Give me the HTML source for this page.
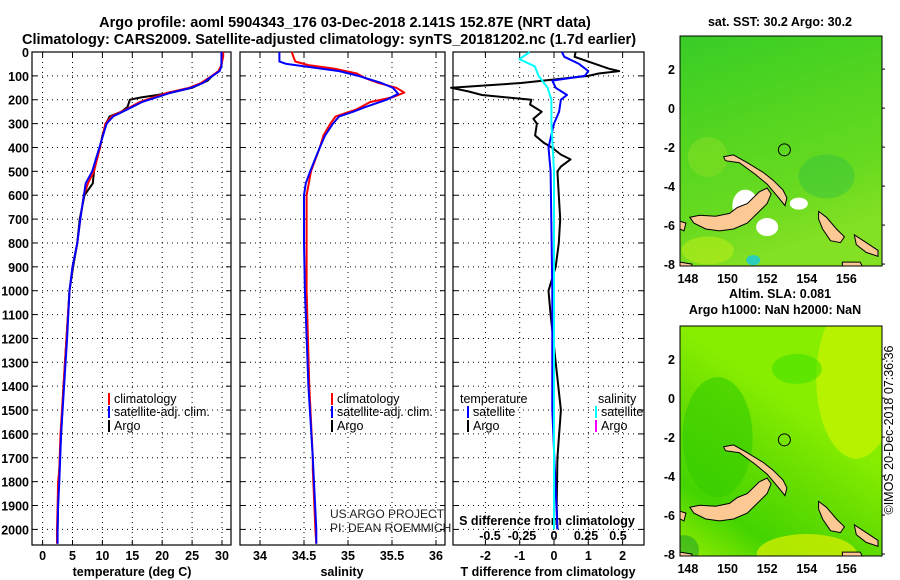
<!DOCTYPE html>
<html><head><meta charset="utf-8">
<style>
html,body{margin:0;padding:0;background:#fff;}
svg{display:block;font-family:"Liberation Sans",Arial,sans-serif;}
.b{font-weight:bold;}
</style></head>
<body>
<svg id="c" width="900" height="580" viewBox="0 0 900 580">
<text x="345" y="27" text-anchor="middle" class="b" font-size="14.5">Argo profile: aoml 5904343_176 03-Dec-2018 2.141S 152.87E (NRT data)</text>
<text x="329" y="44" text-anchor="middle" class="b" font-size="14.5">Climatology: CARS2009. Satellite-adjusted climatology: synTS_20181202.nc (1.7d earlier)</text>
</svg>
<script>
// ---- data ----
const depthTicks=[0,100,200,300,400,500,600,700,800,900,1000,1100,1200,1300,1400,1500,1600,1700,1800,1900,2000];
const tempTicks=[0,5,10,15,20,25,30];
const salTicks=[34,34.5,35,35.5,36];
const salTickLabels=["34","34.5","35","35.5","36"];
const tdiffTicks=[-2,-1,0,1,2];
const sdiffTicks=[-0.5,-0.25,0,0.25,0.5];
const sdiffTickLabels=["-0.5","-0.25","0","0.25","0.5"];

const tClimDepth=[0,20,60,80,100,130,150,170,190,210,240,270,300,400,500,550,600,700,800,900,1000,1200,1400,1600,1750,1800,1900,2000,2060];
const tClimVal=[30.2,30.2,29.8,29.4,28.3,26.5,24.5,21,18.5,16.2,14,11.5,10.5,9.6,8.6,7.6,6.9,6.3,5.8,5.0,4.5,4.0,3.5,3.0,2.8,2.6,2.5,2.4,2.4];
const tSatDepth=[0,20,60,80,100,130,150,170,190,210,240,270,300,400,500,550,600,700,800,900,1000,1200,1400,1600,1800,1900,2000,2060];
const tSatVal=[29.9,29.9,29.9,29.6,28.4,26.8,24.8,21.5,19,16.6,14.2,11.8,10.7,9.5,8.3,7.2,6.9,6.3,5.8,5.0,4.5,4.1,3.6,3.1,2.8,2.6,2.5,2.5];
const tArgoDepth=[0,20,60,80,100,120,150,170,180,190,200,230,250,270,300,350,400,450,500,550,600,650,700,800,900,1000,1200,1400,1600,1800,1900,2000];
const tArgoVal=[30.1,30.1,29.9,29.5,28.4,27.6,25.0,21.5,19.2,16.5,14.6,14.2,13.2,11.2,10.6,10.0,9.6,8.9,8.6,8.4,7.0,6.6,6.2,5.8,5.1,4.5,4.0,3.5,3.1,2.7,2.6,2.5];

const sClimDepth=[0,40,55,70,90,110,130,150,170,190,210,240,270,300,350,400,500,600,800,1000,1400,1700,1750,2000,2060];
const sClimVal=[34.36,34.4,34.55,34.85,35.1,35.2,35.35,35.55,35.64,35.5,35.25,35.1,34.86,34.8,34.72,34.68,34.58,34.53,34.53,34.53,34.56,34.6,34.6,34.63,34.64];
const sSatDepth=[0,40,50,65,80,100,130,150,175,200,230,250,270,300,350,400,500,550,600,800,1000,1400,1700,2000,2060];
const sSatVal=[34.22,34.22,34.3,34.6,34.9,35.12,35.38,35.51,35.57,35.44,35.2,35.06,34.9,34.83,34.74,34.68,34.57,34.52,34.5,34.5,34.51,34.55,34.6,34.64,34.64];

const dArgoTDepth=[0,20,50,70,80,90,100,115,130,150,165,180,200,220,250,280,300,350,380,400,430,450,480,500,600,700,800,900,1000,1100,1300,1500,1700,1900,2000];
const dArgoTVal=[0.63,0.6,1.2,1.6,1.9,1.3,1.0,0,-0.96,-3.0,-2.5,-2.1,-0.66,-0.7,-0.36,-0.6,-0.5,-0.55,-0.3,-0.06,0.2,0.48,0.2,0.1,0.14,0.18,0.14,0.05,-0.16,-0.1,0.05,0.2,0.1,0.08,0.1];
const dSatTDepth=[0,20,50,80,100,120,150,180,200,250,300,400,500,700,1000,1500,2000];
const dSatTVal=[0.23,0.3,0.73,1.0,0.9,-0.05,0.05,0.38,0.2,0.15,0.0,-0.16,-0.1,-0.08,-0.05,-0.05,0.1];
const dSatSDepth=[0,30,60,100,150,200,300,500,1000,1500,2000];
const dSatSVal=[-0.19,-0.27,-0.15,-0.12,-0.05,-0.02,-0.02,0,0,0,0];

// ---- geometry / axis functions ----
const PT=52, PB=545;
const yD=d=>PT+d*0.2387;
const xT=t=>42.6+t*5.98;
const xS=s=>260+(s-34)*88;
const xTd=t=>554+t*34.3;
const xSd=s=>554+s*128;
const panels=[[32,231],[240,445],[453,644]];

const svg=document.getElementById('c');
const NS="http://www.w3.org/2000/svg";
function mk(tag,attrs,parent){const e=document.createElementNS(NS,tag);for(const k in attrs)e.setAttribute(k,attrs[k]);(parent||svg).appendChild(e);return e;}
function txt(x,y,s,size,anchor,bold,parent,fill){const t=mk('text',{x:x,y:y,'font-size':size,'text-anchor':anchor||'start','fill':fill||'#000'},parent);if(bold)t.setAttribute('font-weight','bold');t.textContent=s;return t;}

panels.forEach((p,i)=>{
  const g=mk('g',{});
  
  
  depthTicks.forEach(d=>{
    mk('line',{x1:p[0],x2:p[1],y1:yD(d),y2:yD(d),stroke:'#000','stroke-width':1,'stroke-dasharray':'1,4'},g);
    mk('line',{x1:p[0],x2:p[0]+5,y1:yD(d),y2:yD(d),stroke:'#000'},g);
    mk('line',{x1:p[1]-5,x2:p[1],y1:yD(d),y2:yD(d),stroke:'#000'},g);
  });
  let xs = i==0?tempTicks.map(xT):i==1?salTicks.map(xS):tdiffTicks.map(xTd);
  xs.forEach(x=>{
    mk('line',{x1:x,x2:x,y1:PT,y2:PB,stroke:'#000','stroke-dasharray':'1,4'},g);
    mk('line',{x1:x,x2:x,y1:PB-5,y2:PB,stroke:'#000'},g);
    mk('line',{x1:x,x2:x,y1:PT,y2:PT+5,stroke:'#000'},g);
  });
  mk('rect',{x:p[0],y:PT,width:p[1]-p[0],height:PB-PT,fill:'none',stroke:'#000','stroke-width':1.2},g);
});
const yl=mk('g',{});


depthTicks.forEach(d=>txt(29,yD(d)+5,String(d),12.5,'end',true,yl));
const xl=mk('g',{});


tempTicks.forEach(t=>txt(xT(t),560,String(t),12.5,'middle',true,xl));
salTicks.forEach((s,i)=>txt(xS(s),560,salTickLabels[i],12.5,'middle',true,xl));
tdiffTicks.forEach(t=>txt(xTd(t),560,String(t),12.5,'middle',true,xl));
sdiffTicks.forEach((s,i)=>txt(xSd(s),540,sdiffTickLabels[i],12.5,'middle',true,xl));
let t1=txt(132,576,'temperature (deg C)',12.5,'middle',true);

let t2=txt(342,576,'salinity',12.5,'middle',true);

let t3=txt(548,576,'T difference from climatology',12.5,'middle',true);

let t4=txt(547,525,'S difference from climatology',12.5,'middle',true);


function line(depths,vals,xf,color,name,w){
  const pts=depths.map((d,i)=>xf(vals[i]).toFixed(1)+','+yD(d).toFixed(1)).join(' ');
  const l=mk('polyline',{points:pts,fill:'none',stroke:color,'stroke-width':w||2,'stroke-linejoin':'round'});
  
  
}
line(tArgoDepth,tArgoVal,xT,'#000','temp-argo-line');
line(tClimDepth,tClimVal,xT,'#f00','temp-climatology-line');
line(tSatDepth,tSatVal,xT,'#00f','temp-satellite-line');
line(sClimDepth,sClimVal,xS,'#f00','salinity-climatology-line');
line(sSatDepth,sSatVal,xS,'#00f','salinity-satellite-line');
line(dArgoTDepth,dArgoTVal,xTd,'#000','tdiff-argo-line');
line(dSatTDepth,dSatTVal,xTd,'#00f','tdiff-satellite-line');
line(dSatSDepth,dSatSVal,xSd,'#0ff','sdiff-satellite-line');

function legend(x,y,color,label,name){
  const g=mk('g',{});
  
  
  mk('rect',{x:x,y:y-10,width:2,height:12,fill:color},g);
  txt(x+6,y,label,12.5,'start',false,g);
}
legend(108,403,'#f00','climatology','legend-temp-climatology');
legend(108,416,'#00f','satellite-adj. clim.','legend-temp-satellite');
legend(108,430,'#000','Argo','legend-temp-argo');
legend(331,403,'#f00','climatology','legend-sal-climatology');
legend(331,416,'#00f','satellite-adj. clim.','legend-sal-satellite');
legend(331,430,'#000','Argo','legend-sal-argo');
let lt=txt(460,403,'temperature',12.5,'start',false);
let ls=txt(598,403,'salinity',12.5,'start',false);
legend(467,416,'#00f','satellite','legend-tdiff-satellite');
legend(467,430,'#000','Argo','legend-tdiff-argo');
legend(595,416,'#0ff','satellite','legend-sdiff-satellite');
legend(595,430,'#f0f','Argo','legend-sdiff-argo');
let c1=txt(330,518,'US ARGO PROJECT',12,'start',false,null,'#222');

let c2=txt(330,532,'PI: DEAN ROEMMICH',12,'start',false,null,'#222');


// ---- maps ----
const latTicks=[2,0,-2,-4,-6,-8];
const lonTicks=[148,150,152,154,156];
const islands=[
 [[148.1,-5.6],[148.6,-5.5],[149.4,-5.55],[150.1,-5.4],[150.5,-5.1],[151.0,-4.9],[151.6,-4.3],[152.0,-4.1],[152.2,-4.4],[152.0,-4.9],[151.5,-5.4],[151.0,-5.9],[150.3,-6.2],[149.6,-6.3],[148.9,-6.2],[148.3,-5.9]],
 [[149.8,-2.5],[150.3,-2.4],[151.0,-2.8],[151.8,-3.3],[152.3,-3.7],[152.8,-4.2],[153.0,-4.6],[152.9,-5.0],[152.5,-4.5],[152.0,-3.9],[151.4,-3.4],[150.6,-2.8],[149.9,-2.7]],
 [[154.6,-5.3],[155.0,-5.6],[155.5,-6.2],[155.9,-6.6],[155.7,-6.9],[155.2,-6.8],[154.8,-6.2],[154.6,-5.7]],
 [[156.4,-6.5],[157.0,-6.9],[157.6,-7.3],[157.6,-7.6],[157.0,-7.4],[156.5,-7.0]],
 [[147.6,-5.8],[147.9,-5.9],[147.8,-6.3],[147.6,-6.2]],
 [[147.6,-7.9],[148.2,-8.0],[148.2,-8.1],[147.6,-8.1]],
 [[155.8,-7.9],[156.7,-7.9],[156.8,-8.1],[155.8,-8.1]]
];
function map(top,bottom,name,title1,title2,stops,blobs){
  const L=680,R=882,lon0=147.6,lon1=157.8,lat0=3.7,lat1=-8.1;
  const xL=lo=>L+(lo-lon0)/(lon1-lon0)*(R-L);
  const yL=la=>top+(lat0-la)/(lat0-lat1)*(bottom-top);
  const g=mk('g',{});
  
  
  const gid=name+'-grad';
  const defs=mk('defs',{},g);
  const lg=mk('linearGradient',{id:gid,x1:0,y1:0,x2:stops.dx,y2:1},defs);
  stops.c.forEach((c,i)=>mk('stop',{offset:(i/(stops.c.length-1)),'stop-color':c},lg));
  const cp=mk('clipPath',{id:gid+'c'},defs);
  mk('rect',{x:L,y:top,width:R-L,height:bottom-top},cp);
  mk('rect',{x:L,y:top,width:R-L,height:bottom-top,fill:'url(#'+gid+')'},g);
  const bg=mk('g',{'clip-path':'url(#'+gid+'c)'},g);
  blobs.forEach(b=>mk('ellipse',{cx:xL(b[0]),cy:yL(b[1]),rx:b[2],ry:b[3],fill:b[4],opacity:b[5]},bg));
  islands.forEach(is=>{
    const pts=is.map(p=>xL(p[0]).toFixed(1)+','+yL(p[1]).toFixed(1)).join(' ');
    mk('polygon',{points:pts,fill:'#fcc994',stroke:'#000','stroke-width':1},bg);
  });
  mk('circle',{cx:xL(152.87),cy:yL(-2.14),r:6,fill:'none',stroke:'#000'},g);
  mk('rect',{x:L,y:top,width:R-L,height:bottom-top,fill:'none',stroke:'#000'},g);
  latTicks.forEach(la=>{txt(L-5,yL(la)+5,String(la),12.5,'end',true,g);
    mk('line',{x1:R,x2:R+3,y1:yL(la),y2:yL(la),stroke:'#000'},g);});
  lonTicks.forEach(lo=>txt(xL(lo),bottom+17,String(lo),12.5,'middle',true,g));
  if(title2){txt(780,top-28,title1,12.5,'middle',true,g);txt(775,top-12,title2,12.5,'middle',true,g);}
  else txt(780,top-10,title1,12.5,'middle',true,g);
  return {xL,yL};
}
map(36,266,'sst-map','sat. SST: 30.2 Argo: 30.2',null,{dx:0.3,c:['#38cc28','#48d222','#58d620','#66da20','#84e022']},
 [[150.9,-5.0,13,16,'#ffffff',1],[152.0,-6.1,11,9,'#ffffff',1],[153.6,-4.9,9,6,'#ffffff',1],[155,-3.5,28,22,'#30c040',0.45],[149,-7.3,26,14,'#b8ec18',0.6],[149,-2.5,20,20,'#88e022',0.5],[151.3,-7.8,7,5,'#22cccc',0.9]]);
map(326,556,'sla-map','Altim. SLA: 0.081','Argo h1000: NaN h2000: NaN',{dx:-0.6,c:['#88ee00','#66dd00','#44d400','#99ee00','#ccf500']},
 [[149.5,-2,35,60,'#33cc00',0.6],[156.5,1,40,80,'#ccf500',0.7],[154,-8,50,20,'#e0f000',0.7],[153.5,1.5,25,15,'#33dd00',0.5],[147.8,-7.8,15,15,'#119933',0.5]]);
let ts=txt(893,430,'©IMOS 20-Dec-2018 07:36:36',12.5,'middle',false);
ts.setAttribute('transform','rotate(-90 893 430)');


</script>
</body></html>
